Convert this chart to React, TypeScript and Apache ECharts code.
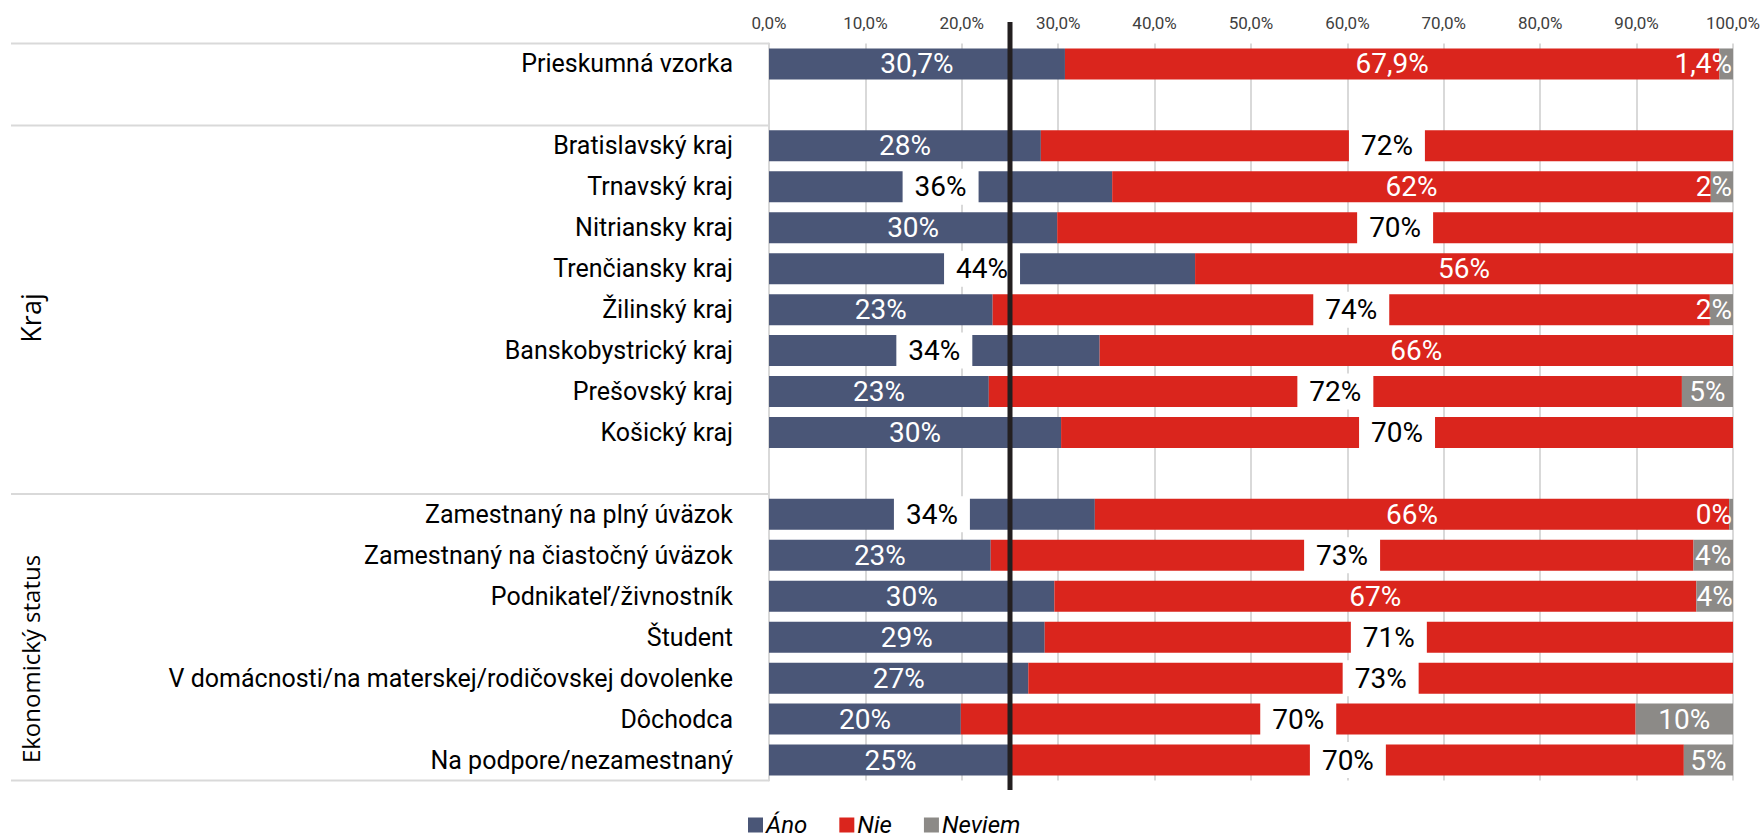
import React, { useEffect, useRef } from "react";
import * as echarts from "echarts";

const categories = [
  "Prieskumná vzorka",
  " ",
  "Bratislavský kraj",
  "Trnavský kraj",
  "Nitriansky kraj",
  "Trenčiansky kraj",
  "Žilinský kraj",
  "Banskobystrický kraj",
  "Prešovský kraj",
  "Košický kraj",
  "  ",
  "Zamestnaný na plný úväzok",
  "Zamestnaný na čiastočný úväzok",
  "Podnikateľ/živnostník",
  "Študent",
  "V domácnosti/na materskej/rodičovskej dovolenke",
  "Dôchodca",
  "Na podpore/nezamestnaný",
];

const ano = [30.7, null, 28.2, 35.6, 29.9, 44.2, 23.2, 34.3, 22.8, 30.3, null, 33.8, 23.0, 29.6, 28.6, 26.9, 19.9, 25.2];
const nie = [67.9, null, 71.8, 62.1, 70.1, 55.8, 74.4, 65.7, 71.9, 69.7, null, 65.8, 72.9, 66.6, 71.4, 73.1, 70.0, 69.7];
const neviem = [1.4, null, null, 2.3, null, null, 2.4, null, 5.3, null, null, 0.4, 4.1, 3.8, null, null, 10.1, 5.1];

const xTicks = [0, 10, 20, 30, 40, 50, 60, 70, 80, 90, 100];
const seriesNames = ["Áno", "Nie", "Neviem"];
const groupLabels = ["Kraj", "Ekonomický status"];
const referenceValue = 25;

// label styling choices (which labels are drawn dark on a white box)
const boxedAno = [3, 5, 7, 11];
const boxedNie = [2, 4, 6, 8, 9, 12, 14, 15, 16, 17];

const COLORS = ["#4A5677", "#DA251D", "#8C8A87"];
const FONT = "Roboto, 'Open Sans', sans-serif";

function fmt(v: number, idx: number) {
  if (idx === 0) return v.toFixed(1).replace(".", ",") + "%";
  return Math.round(v) + "%";
}

function buildData(values: (number | null)[], boxed: number[], series: number) {
  return values.map((v, i) => {
    if (v === null) return { value: null };
    const isBoxed = boxed.includes(i);
    const label: any = {
      show: true,
      formatter: () => fmt(v, i),
      color: isBoxed ? "#000" : "#fff",
      fontSize: 28,
      fontFamily: FONT,
      position: "inside",
    };
    if (isBoxed) {
      label.backgroundColor = "#fff";
      label.padding = [4, 12];
    }
    if (series === 2 && v < 3) {
      label.position = "insideRight";
      label.distance = 1;
    }
    return { value: v, label };
  });
}

export default function App() {
  const ref = useRef<HTMLDivElement>(null);

  useEffect(() => {
    document.body.style.margin = "0";
    if (!ref.current) return;
    const chart = echarts.init(ref.current, undefined, { renderer: "svg" });

    const option: any = {
      animation: false,
      backgroundColor: "#fff",
      grid: { left: 769, right: 31, top: 43.5, bottom: 58.5, containLabel: false },
      legend: {
        data: seriesNames,
        top: 813,
        left: 748,
        icon: "rect",
        itemWidth: 15,
        itemHeight: 15,
        itemGap: 32,
        padding: 0,
        textStyle: {
          fontSize: 24,
          lineHeight: 20,
          fontStyle: "italic",
          fontFamily: FONT,
          color: "#000",
          padding: [0, 0, 0, -2],
        },
      },
      xAxis: {
        type: "value",
        position: "top",
        min: xTicks[0],
        max: xTicks[xTicks.length - 1],
        interval: xTicks[1] - xTicks[0],
        axisLine: { show: false },
        axisTick: { show: false },
        splitLine: { show: true, lineStyle: { color: "#d9d9d9", width: 2 } },
        axisLabel: {
          formatter: (v: number) => v.toFixed(1).replace(".", ",") + "%",
          fontSize: 17,
          fontFamily: FONT,
          color: "#404040",
          margin: 12,
        },
      },
      yAxis: {
        type: "category",
        inverse: true,
        data: categories,
        axisLine: { show: true, lineStyle: { color: "#d9d9d9", width: 2 } },
        axisTick: { show: false },
        axisLabel: { fontSize: 25, fontFamily: FONT, color: "#000", margin: 36 },
      },
      series: [
        { name: seriesNames[0], type: "bar", stack: "t", barWidth: 31, itemStyle: { color: COLORS[0] }, data: buildData(ano, boxedAno, 0) },
        { name: seriesNames[1], type: "bar", stack: "t", barWidth: 31, itemStyle: { color: COLORS[1] }, data: buildData(nie, boxedNie, 1) },
        { name: seriesNames[2], type: "bar", stack: "t", barWidth: 31, itemStyle: { color: COLORS[2] }, data: buildData(neviem, [], 2) },
      ],
    };
    chart.setOption(option);

    const yc = (i: number) => chart.convertToPixel({ yAxisIndex: 0 }, i) as number;
    const pitch = yc(1) - yc(0);
    const x0 = chart.convertToPixel({ xAxisIndex: 0 }, 0) as number;
    const xr = chart.convertToPixel({ xAxisIndex: 0 }, referenceValue) as number;
    const bounds = [yc(0) - pitch / 2, (yc(1) + yc(2)) / 2, (yc(10) + yc(11)) / 2, yc(17) + pitch / 2];

    const graphics: any[] = bounds.map((y) => ({
      type: "line",
      shape: { x1: 11, y1: y, x2: x0, y2: y },
      style: { stroke: "#d9d9d9", lineWidth: 2 },
      z: 10,
    }));
    graphics.push({
      type: "line",
      shape: { x1: xr, y1: 22, x2: xr, y2: 790 },
      style: { stroke: "#231F20", lineWidth: 5 },
      z: 100,
    });
    graphics.push({
      type: "text",
      x: 30,
      y: 318,
      rotation: Math.PI / 2,
      style: {
        text: groupLabels[0],
        fontSize: 27,
        fontFamily: "'Open Sans', sans-serif",
        fill: "#000",
        align: "center",
        verticalAlign: "middle",
      },
      z: 10,
    });
    graphics.push({
      type: "text",
      x: 30,
      y: 659,
      rotation: Math.PI / 2,
      style: {
        text: groupLabels[1],
        fontSize: 24,
        fontFamily: "'Open Sans', sans-serif",
        fill: "#000",
        align: "center",
        verticalAlign: "middle",
      },
      z: 10,
    });
    chart.setOption({ graphic: graphics });

    return () => chart.dispose();
  }, []);

  return <div ref={ref} style={{ width: 1764, height: 839 }} />;
}
